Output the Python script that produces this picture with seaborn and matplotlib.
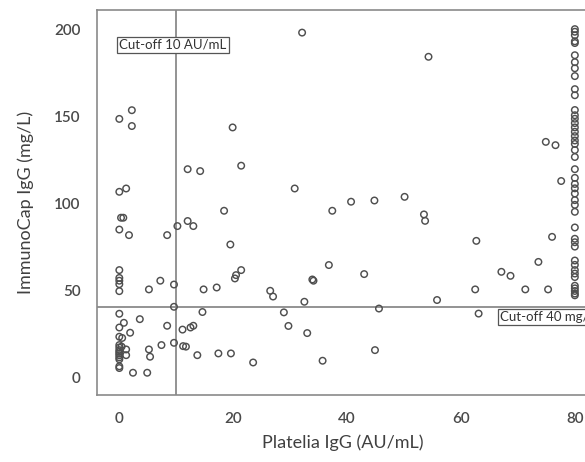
import matplotlib
matplotlib.use("Agg")
import matplotlib.pyplot as plt
import seaborn as sns
import pandas as pd

# Platelia IgG (AU/mL) vs ImmunoCap IgG (mg/L)
low_x = [0, 2.2, 2.2, 0, 1.2, 0.3, 0.7, 0, 1.7,
         0, 0, 0, 0, 0, 0, 0.8, 0, 1.9, 0, 0.5,
         0, 0, 0, 0, 0, 0, 0, 0, 1.2, 1.2, 0.4,
         0, 0, 2.4, 4.9, 3.6, 5.2, 5.4, 7.4, 9.6, 8.4, 9.6,
         11.2, 11.7, 11.1, 12.5, 13.0, 13.7, 17.4, 19.6, 23.5, 14.6,
         7.2, 5.2, 9.6, 14.8, 17.1,
         8.4, 10.2, 12.0, 13.0, 18.4, 19.5, 21.4, 20.5, 20.3,
         19.9, 21.4, 12.0, 14.2]
low_y = [148.4, 153.4, 144.3, 106.5, 108.4, 91.6, 91.6, 84.8, 81.6,
         61.5, 57, 55.4, 53.4, 49.4, 36.4, 31.2, 28.5, 25.5, 23.2, 22.5,
         18.4, 17, 15.5, 14.5, 13.5, 12.5, 11.3, 10.2, 15.9, 12.6, 17.5,
         6.2, 5.2, 2.5, 2.5, 33.3, 15.9, 11.7, 18.4, 19.7, 29.5, 40.4,
         17.8, 17.5, 27.3, 28.5, 29.5, 12.6, 13.6, 13.6, 8.4, 37.4,
         55.4, 50.4, 53.2, 50.4, 51.5,
         81.6, 86.8, 89.7, 86.8, 95.6, 76.2, 61.5, 58.6, 56.7,
         143.5, 121.5, 119.5, 118.4]

mid_x = [32.1, 54.3, 30.8, 40.7, 44.8, 50.1, 37.4, 53.5, 53.7,
         36.8, 43.0, 33.9, 34.1, 26.5, 27.0, 32.5, 28.9, 45.6, 29.7, 33.0, 44.9, 35.7,
         62.7, 76.0, 73.6, 67.1, 68.7, 62.5, 71.3, 75.3, 55.8, 63.1,
         74.9, 76.6, 77.6]
mid_y = [198, 184.1, 108.4, 100.8, 101.5, 103.6, 95.6, 93.5, 89.8,
         64.4, 59.2, 56.1, 55.4, 49.6, 46.3, 43.3, 37.2, 39.4, 29.4, 25.3, 15.5, 9.4,
         78.3, 80.6, 66.2, 60.5, 58.2, 50.4, 50.4, 50.4, 44.3, 36.5,
         135.2, 133.3, 112.7]

# values stacked at the Platelia upper limit (80)
top_y = [200, 198.5, 196.5, 193, 192, 185, 181, 177.5, 173, 165.5, 162,
         153.5, 150.5, 148.5, 146, 143.5, 141, 138.5, 136, 134, 130.5, 126.5,
         119.5, 114.5, 111, 108.5, 105.5, 101.7, 99, 95, 86, 79.5, 77.5, 75,
         67, 64.5, 61.5, 59.5, 57.5, 52.5, 51, 49.5, 48, 47]
top_x = [80] * len(top_y)

cutoff_platelia = 10
cutoff_immunocap = 40

df = pd.DataFrame({
    "platelia": low_x + mid_x + top_x,
    "immunocap": low_y + mid_y + top_y,
})

sns.set_style("white")
plt.rcParams["font.family"] = ["Lato", "DejaVu Sans"]

fig = plt.figure(figsize=(5.85, 4.62), dpi=100)
ax = fig.add_axes([0.166, 0.145, 0.84, 0.833])

grey = "#8a8a8a"
ax.axvline(cutoff_platelia, color=grey, lw=1.3, zorder=1)
ax.axhline(cutoff_immunocap, color=grey, lw=1.3, zorder=1)

sns.scatterplot(data=df, x="platelia", y="immunocap", ax=ax,
                marker="o", s=22, facecolor="none", edgecolor="#4f4f4f",
                linewidth=1.05, zorder=3)

box = dict(boxstyle="square,pad=0.15", facecolor="white", edgecolor="#555555", lw=0.9)
ax.text(0, 191, "Cut-off 10 AU/mL", fontsize=9.5, color="#333333",
        va="center", ha="left", bbox=box, zorder=4)
# the reference crops this label at the right edge of the figure
ax.text(66.8, 34.6, "Cut-off 40 mg/L", fontsize=9.5, color="#333333",
        va="center", ha="left", bbox=box, zorder=4, clip_on=False)

ax.set_xlim(-3.9, 82.4)
ax.set_ylim(-10.3, 210.9)
ax.set_xticks([0, 20, 40, 60, 80])
ax.set_yticks([0, 50, 100, 150, 200])

for side in ["left", "bottom", "top"]:
    ax.spines[side].set_color(grey)
    ax.spines[side].set_linewidth(1.2)
ax.spines["right"].set_visible(False)

ax.tick_params(axis="both", direction="out", length=6, width=1.2, color=grey,
               labelsize=11, labelcolor="#4a4a4a", pad=6)
for lab in ax.get_xticklabels() + ax.get_yticklabels():
    lab.set_fontweight("semibold")

ax.set_xlabel("Platelia IgG (AU/mL)", fontsize=13, color="#404040", labelpad=6)
ax.set_ylabel("ImmunoCap IgG (mg/L)", fontsize=13, color="#404040", labelpad=14)

fig.savefig("out.png", dpi=100)
